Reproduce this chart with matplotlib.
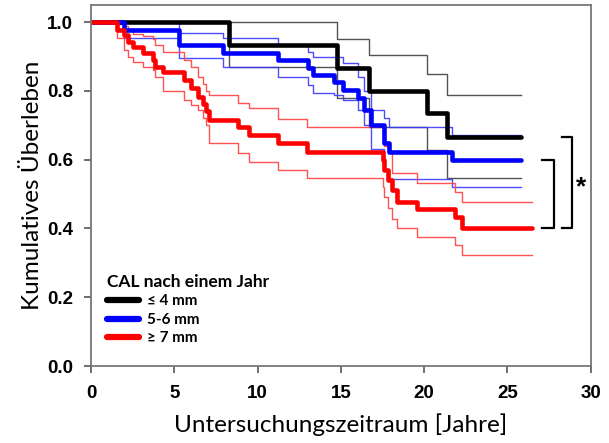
import matplotlib
matplotlib.use("Agg")
import matplotlib.pyplot as plt
from matplotlib.lines import Line2D

# Kaplan-Meier curves with 95% CI, grouped by CAL one year after treatment
t_black = [0, 8.3, 14.75, 16.7, 20.2, 21.35, 25.8]
s_black = [1.0, 0.933, 0.866, 0.80, 0.735, 0.666, 0.666]
hi_black = [1.0, 1.0, 0.95, 0.904, 0.849, 0.788, 0.788]
lo_black = [1.0, 0.87, 0.78, 0.695, 0.628, 0.547, 0.547]

t_blue = [0, 2.0, 5.3, 7.9, 11.2, 13.0, 13.3, 14.6, 15.1, 16.0, 16.4, 16.8,
          17.6, 17.9, 21.7, 25.8]
s_blue = [1.0, 0.977, 0.933, 0.910, 0.890, 0.866, 0.846, 0.826, 0.802, 0.78,
          0.744, 0.70, 0.65, 0.622, 0.599, 0.599]
hi_blue = [1.0, 1.0, 0.968, 0.953, 0.933, 0.913, 0.898, 0.898, 0.881, 0.84,
           0.80, 0.744, 0.72, 0.695, 0.672, 0.672]
lo_blue = [1.0, 0.953, 0.895, 0.87, 0.84, 0.817, 0.794, 0.788, 0.773, 0.744,
           0.70, 0.63, 0.57, 0.544, 0.52, 0.52]

t_red = [0, 1.55, 2.0, 2.2, 2.5, 3.1, 3.7, 3.85, 4.3, 5.6, 6.0, 6.4, 6.7, 6.9,
         7.1, 8.8, 9.5, 11.2, 12.95, 17.5, 17.6, 17.8, 18.1, 18.35, 19.6,
         21.85, 22.25, 26.5]
s_red = [1.0, 0.977, 0.962, 0.942, 0.927, 0.910, 0.890, 0.869, 0.855, 0.831,
         0.808, 0.782, 0.762, 0.741, 0.715, 0.695, 0.672, 0.648, 0.622, 0.599,
         0.570, 0.541, 0.512, 0.477, 0.456, 0.433, 0.401, 0.401]
hi_red = [1.0, 0.995, 0.99, 0.98, 0.967, 0.96, 0.95, 0.933, 0.913, 0.89, 0.87,
          0.84, 0.82, 0.80, 0.788, 0.765, 0.750, 0.718, 0.695, 0.665, 0.64,
          0.622, 0.561, 0.561, 0.532, 0.506, 0.477, 0.477]
lo_red = [1.0, 0.953, 0.919, 0.90, 0.884, 0.87, 0.86, 0.84, 0.80, 0.773, 0.76,
          0.744, 0.72, 0.70, 0.648, 0.619, 0.593, 0.57, 0.547, 0.52, 0.491,
          0.46, 0.427, 0.40, 0.375, 0.352, 0.323, 0.323]

groups = ["≤ 4 mm", "5-6 mm", "≥ 7 mm"]
xticks = [0, 5, 10, 15, 20, 25, 30]
yticks = [0.0, 0.2, 0.4, 0.6, 0.8, 1.0]

fig = plt.figure(figsize=(6.09, 4.43), dpi=100)
ax = fig.add_axes([0.1494, 0.1738, 0.8206, 0.8149])

series = [
    (t_black, s_black, hi_black, lo_black, "black", "#404040"),
    (t_blue, s_blue, hi_blue, lo_blue, "#0000ff", "#3a3aff"),
    (t_red, s_red, hi_red, lo_red, "#ff0000", "#ff4040"),
]
for t, s, hi, lo, c, cthin in series:
    ax.step(t, hi, where="post", color=cthin, lw=1.0, alpha=0.9)
    ax.step(t, lo, where="post", color=cthin, lw=1.0, alpha=0.9)
for t, s, hi, lo, c, cthin in series:
    ax.step(t, s, where="post", color=c, lw=3.3, solid_capstyle="round")

ax.set_xlim(0, 30)
ax.set_ylim(0, 1.05)
ax.set_xticks(xticks)
ax.set_yticks(yticks)
ax.set_xticklabels([str(v) for v in xticks], fontfamily="Liberation Sans",
                   fontweight="bold", fontsize=13.5)
ax.set_yticklabels([f"{v:.1f}" for v in yticks], fontfamily="Liberation Sans",
                   fontweight="bold", fontsize=13.5)
ax.tick_params(direction="out", length=5, width=1.2, color="#555555")
ax.tick_params(axis="x", pad=9)
ax.tick_params(axis="y", pad=8)
for sp in ax.spines.values():
    sp.set_color("#777777")
    sp.set_linewidth(1.3)

ax.set_xlabel("Untersuchungszeitraum [Jahre]", fontfamily="Lato", fontsize=17.5,
              labelpad=8)
ax.set_ylabel("Kumulatives Überleben", fontfamily="Lato", fontsize=17.5,
              labelpad=3)

# significance brackets
ax.plot([27.1, 27.8, 27.8, 27.1], [0.599, 0.599, 0.401, 0.401], color="black", lw=1.6)
ax.plot([28.25, 28.85, 28.85, 28.25], [0.666, 0.666, 0.401, 0.401], color="black", lw=1.6)
ax.text(29.45, 0.52, "*", fontfamily="Liberation Sans", fontweight="bold",
        fontsize=19, ha="center", va="center")

handles = [Line2D([], [], color=c, lw=4.5, solid_capstyle="round")
           for c in ["black", "#0000ff", "#ff0000"]]
leg = ax.legend(handles, groups, title="CAL nach einem Jahr", loc="lower left",
                bbox_to_anchor=(0.02, 0.04), frameon=False, handlelength=2.1,
                handletextpad=0.5, labelspacing=0.3, borderaxespad=0,
                prop={"family": "Lato", "weight": "bold", "size": 11})
leg.get_title().set_fontfamily("Lato")
leg.get_title().set_fontweight("bold")
leg.get_title().set_fontsize(12.5)
leg._legend_box.align = "left"

fig.savefig("out.png", dpi=100)
